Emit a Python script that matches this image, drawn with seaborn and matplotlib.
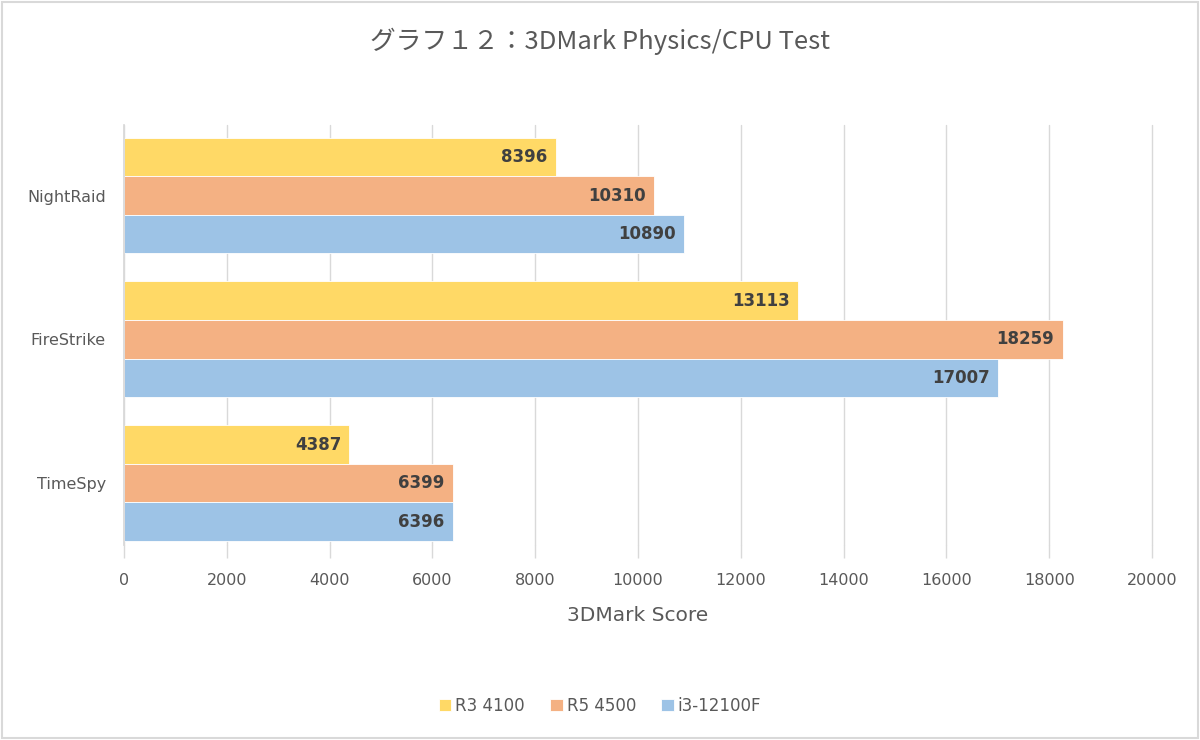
import matplotlib
matplotlib.use("Agg")
import matplotlib.pyplot as plt
import seaborn as sns
import pandas as pd
from matplotlib.patches import Rectangle

# chart data
tests = ["NightRaid", "FireStrike", "TimeSpy"]
cpus = ["R3 4100", "R5 4500", "i3-12100F"]
r3_4100 = [8396, 13113, 4387]
r5_4500 = [10310, 18259, 6399]
i3_12100f = [10890, 17007, 6396]
x_ticks = list(range(0, 20001, 2000))

colors = ["#FFD966", "#F4B183", "#9DC3E6"]
text_gray = "#595959"

sns.set_theme(style="white")
plt.rcParams['font.family'] = ['DejaVu Sans', 'Noto Sans CJK JP']

# long-form table for seaborn
rows = []
for cpu, vals in zip(cpus, [r3_4100, r5_4500, i3_12100f]):
    for test, v in zip(tests, vals):
        rows.append({"Test": test, "CPU": cpu, "Score": v})
df = pd.DataFrame(rows)

fig = plt.figure(figsize=(12, 7.4), dpi=100)
ax = fig.add_axes([0.1033, 0.2635, 0.8567, 0.5675])

sns.barplot(data=df, y="Test", x="Score", hue="CPU", order=tests, hue_order=cpus,
            palette=colors, orient="h", width=0.806, ax=ax, saturation=1,
            edgecolor="white", linewidth=0.6, legend=True)

# data labels inside bar ends
for container in ax.containers:
    labels = ax.bar_label(container, fmt="%d", padding=-6, label_type="edge",
                          fontsize=12, fontweight="bold", color="#404040")
    for txt in labels:
        txt.set_horizontalalignment("right")

ax.set_xlim(0, 20000)
ax.set_ylim(2.43, -0.49)
ax.set_xticks(x_ticks)
ax.set_xticklabels([str(t) for t in x_ticks], fontsize=11.5, color=text_gray)
ax.tick_params(axis="x", length=9, color="#D9D9D9", width=1, pad=11, direction="out", bottom=True)
ax.tick_params(axis="y", length=0, pad=13, labelsize=11.5, labelcolor=text_gray)
ax.xaxis.grid(True, color="#D9D9D9", linewidth=1)
for gl in ax.get_xgridlines():
    gl.set_clip_on(False)
ax.set_axisbelow(True)
for side in ["top", "right", "bottom"]:
    ax.spines[side].set_visible(False)
ax.spines["left"].set_color("#D9D9D9")
ax.set_ylabel("")
ax.set_xlabel("3DMark Score", fontsize=14.5, color=text_gray, labelpad=13)

fig.suptitle("グラフ１２：3DMark Physics/CPU Test", y=0.963, fontsize=18.5,
             color=text_gray, family=['Noto Sans CJK JP', 'DejaVu Sans'])

handles, labels = ax.get_legend_handles_labels()
ax.get_legend().remove()
fig.legend(handles, labels, loc="center", bbox_to_anchor=(0.5, 0.046), ncol=3,
           frameon=False, fontsize=12, labelcolor=text_gray,
           handlelength=0.75, handleheight=0.75, handletextpad=0.25, columnspacing=1.5)

# outer chart border
fig.patches.append(Rectangle((0.002, 0.003), 0.996, 0.994, transform=fig.transFigure,
                             fill=False, edgecolor="#D9D9D9", linewidth=1.5))

fig.savefig("out.png", dpi=100)
